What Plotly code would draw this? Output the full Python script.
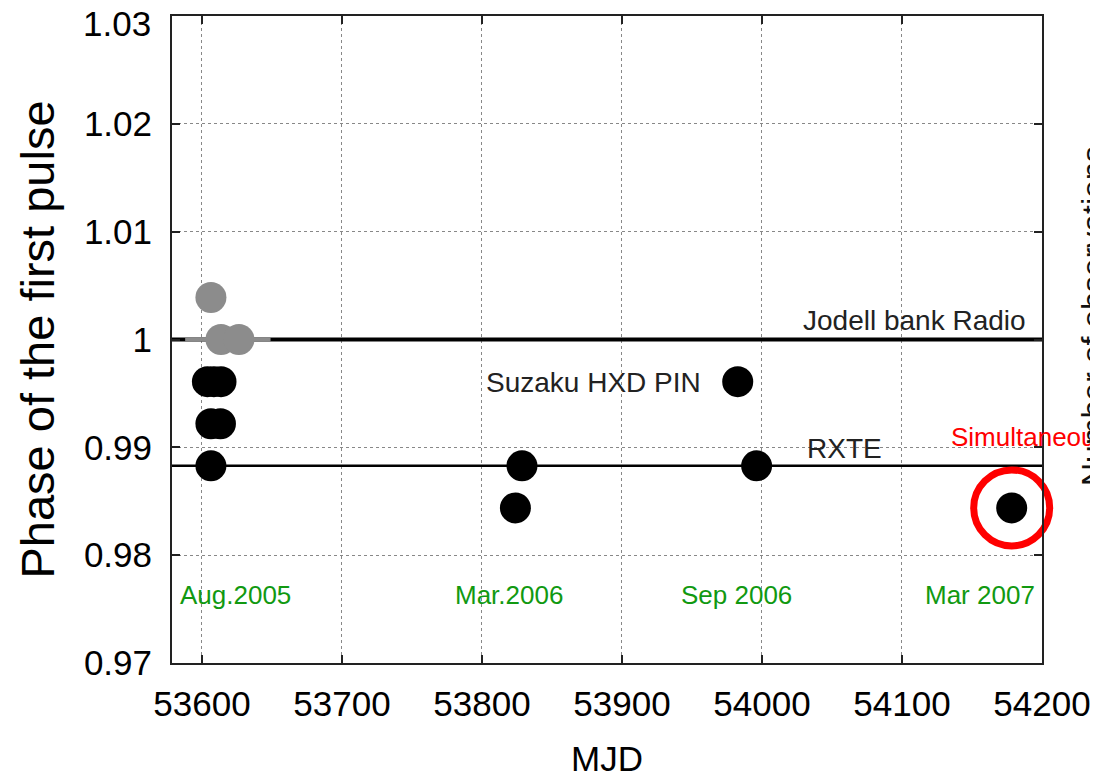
import plotly.graph_objects as go

# ---- data ----
gray_mjd = [53606.4, 53613.6, 53626.4]
gray_phase = [1.0039, 1.0, 1.0]
gray_segment_mjd = [53588, 53649]

black_mjd = [53603.9, 53608.5, 53613.6, 53606.4, 53613.2, 53606.4,
             53823.9, 53828.6, 53982.7, 53996.2, 54178.4]
black_phase = [0.99609, 0.99609, 0.99609, 0.99219, 0.99219, 0.98828,
               0.98438, 0.98828, 0.99609, 0.98828, 0.98438]

simul_mjd = [54178.4]
simul_phase = [0.98438]

radio_level = 1.0
rxte_level = 0.98828

x_range = [53578.6, 54200.05]
y_range = [0.96999, 1.03001]
x_ticks = [53600, 53700, 53800, 53900, 54000, 54100, 54200]
y_ticks = [0.97, 0.98, 0.99, 1.0, 1.01, 1.02, 1.03]
y_ticklabels = ["0.97", "0.98", "0.99", "1", "1.01", "1.02", "1.03"]

epoch_labels = ["Aug.2005", "Mar.2006", "Sep 2006", "Mar 2007"]
epoch_mjd = [53624, 53819, 53982, 54156]
epoch_phase = 0.9763

FONT = "Liberation Sans, Arial, sans-serif"

# page has an 8px body margin; figure sized so it ends at the window edge
W, H = 1090, 772
L, R, T, B = 164, 56, 8, 117
PW, PH = W - L - R, H - T - B


def px(xw):
    return (xw - 8 - L) / PW


def py(yw):
    return (H - B - (yw - 8)) / PH


fig = go.Figure()

fig.add_trace(go.Scatter(x=x_range, y=[radio_level, radio_level], mode="lines",
                         line=dict(color="black", width=4), hoverinfo="skip",
                         showlegend=False))
fig.add_trace(go.Scatter(x=gray_segment_mjd, y=[radio_level, radio_level], mode="lines",
                         line=dict(color="#8c8c8c", width=4), hoverinfo="skip",
                         showlegend=False))
fig.add_trace(go.Scatter(x=x_range, y=[rxte_level, rxte_level], mode="lines",
                         line=dict(color="black", width=2.5), hoverinfo="skip",
                         showlegend=False))

fig.add_trace(go.Scatter(x=gray_mjd, y=gray_phase, mode="markers",
                         marker=dict(color="#8c8c8c", size=31, line=dict(width=0)),
                         showlegend=False))
fig.add_trace(go.Scatter(x=black_mjd, y=black_phase, mode="markers",
                         marker=dict(color="black", size=31, line=dict(width=0)),
                         showlegend=False))
fig.add_trace(go.Scatter(x=simul_mjd, y=simul_phase, mode="markers",
                         marker=dict(symbol="circle-open", color="red", size=76,
                                     line=dict(color="red", width=7)),
                         showlegend=False, cliponaxis=False))

annotations = []
for lab, xm in zip(epoch_labels, epoch_mjd):
    annotations.append(dict(x=xm, y=epoch_phase, xref="x", yref="y", text=lab,
                            showarrow=False, xanchor="center", yanchor="middle",
                            font=dict(family=FONT, size=26, color="#119911")))

# top tick label drawn slightly below its tick so it is not clipped by the page edge
annotations.append(dict(x=px(153), y=py(24), xref="paper", yref="paper",
                        text=y_ticklabels[-1], showarrow=False, xanchor="right",
                        yanchor="middle", font=dict(family=FONT, size=35, color="black")))

annotations += [
    dict(x=54109, y=1.0018, xref="x", yref="y", text="Jodell bank Radio", showarrow=False,
         xanchor="center", yanchor="middle", font=dict(family=FONT, size=28, color="#222222")),
    dict(x=53880, y=0.99600, xref="x", yref="y", text="Suzaku HXD PIN", showarrow=False,
         xanchor="center", yanchor="middle", font=dict(family=FONT, size=28, color="#222222")),
    dict(x=54059, y=0.98985, xref="x", yref="y", text="RXTE", showarrow=False,
         xanchor="center", yanchor="middle", font=dict(family=FONT, size=28, color="#222222")),
    dict(x=px(949), y=py(437), xref="paper", yref="paper",
         text="Simultaneous", showarrow=False, xanchor="left", yanchor="middle",
         font=dict(family=FONT, size=26, color="red")),
    dict(x=px(1093), y=py(316), xref="paper", yref="paper",
         text="Number of observations", showarrow=False, textangle=-90,
         xanchor="center", yanchor="middle", font=dict(family=FONT, size=32, color="#111111")),
]

fig.update_layout(
    width=W, height=H,
    margin=dict(l=L, r=R, t=T, b=B, autoexpand=False),
    paper_bgcolor="white", plot_bgcolor="white",
    font=dict(family=FONT, color="black"),
    annotations=annotations,
    showlegend=False,
)

fig.update_xaxes(range=x_range, tickvals=x_ticks, ticktext=[str(v) for v in x_ticks],
                 showline=True, linecolor="#222222", linewidth=2, mirror="ticks",
                 ticks="inside", ticklen=8, tickwidth=1.5, tickcolor="#222222",
                 showgrid=True, gridcolor="#888888", griddash="dot", gridwidth=1,
                 zeroline=False, tickfont=dict(size=35, color="black"), automargin=False,
                 ticklabeloverflow="allow", ticklabelstandoff=9,
                 title=dict(text="MJD", font=dict(size=35, color="black"), standoff=24))
fig.update_yaxes(range=y_range, tickvals=y_ticks,
                 ticktext=y_ticklabels[:-1] + [""],
                 showline=True, linecolor="#222222", linewidth=2, mirror="ticks",
                 ticks="inside", ticklen=8, tickwidth=1.5, tickcolor="#222222",
                 showgrid=True, gridcolor="#888888", griddash="dot", gridwidth=1,
                 zeroline=False, tickfont=dict(size=35, color="black"), automargin=False,
                 ticklabeloverflow="allow", ticklabelstandoff=11,
                 title=dict(text="Phase of the first pulse", font=dict(size=47, color="black"),
                            standoff=14))

fig.write_html("out.html")
